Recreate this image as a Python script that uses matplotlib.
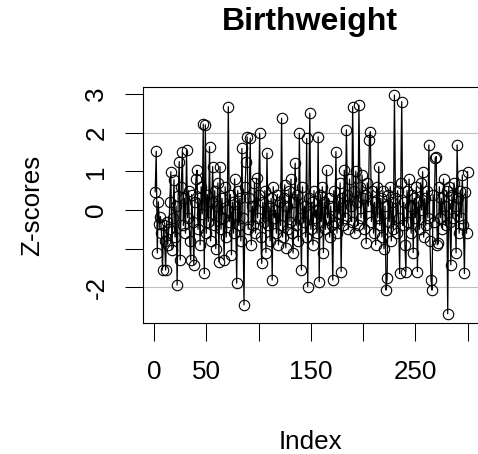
import matplotlib
matplotlib.use("Agg")
import matplotlib.pyplot as plt
import numpy as np

# Z-scores (index 1..300)
z_scores = [
    0.47, 1.52, -1.11, 0.21, -0.35, -0.17, -0.60, -1.55, -0.40, -0.80,
    -1.55, -0.30, -0.90, -0.50, 0.20, 0.99, -1.03, -0.20, 0.78, -0.70,
    0.10, -1.94, 0.35, 1.25, -1.29, 0.60, 1.50, -0.40, 0.30, -0.60,
    1.55, -0.20, 0.50, -0.80, -1.29, 0.40, -0.30, -1.42, 0.20, 0.80,
    1.03, -0.50, 0.30, -0.90, 0.60, -0.10, 2.22, -1.64, 2.20, -0.60,
    0.40, -0.30, 1.64, -0.80, 0.20, 1.12, -0.40, 0.50, -1.00, 0.10,
    0.70, -1.34, 1.12, -0.50, 0.30, -0.20, -1.29, 0.60, -0.70, 0.00,
    2.67, -0.30, 0.40, -1.16, 0.20, -0.60, 0.80, -0.10, -1.89, 0.50,
    -0.40, 0.30, -0.80, 1.59, -0.20, -2.45, 0.60, 1.25, 1.89, -0.50,
    0.30, 1.86, -0.90, 0.10, -0.40, 0.70, -0.60, 0.82, -0.20, 0.40,
    1.98, -0.70, -1.38, 0.20, -0.30, 0.50, -1.10, 1.47, -0.40, 0.10,
    -0.80, 0.30, -1.81, 0.60, -0.20, 0.00, -0.60, 0.40, -0.90, 0.20,
    -0.40, 2.37, -0.70, 0.30, 0.65, -0.98, 0.10, -0.50, 0.50, -0.30,
    0.80, -0.60, -1.11, 0.20, 1.21, -0.40, 0.40, -0.80, 1.98, -0.20,
    -1.55, 0.60, -0.30, 0.10, -0.70, 1.85, -1.98, 0.30, 2.50, -0.50,
    0.20, -0.90, 0.50, -0.20, 0.00, -0.60, 1.89, -1.85, 0.40, -0.30,
    0.60, -1.10, 0.20, -0.50, 1.03, -0.20, 0.30, -0.70, 0.10, -0.40,
    -1.81, 0.50, -0.30, 1.51, -0.60, 0.20, -0.10, 0.70, -1.59, 0.30,
    -0.40, 1.03, -0.20, 2.07, 0.40, -0.50, 0.80, 0.10, -0.30, 2.67,
    0.50, -0.60, 1.00, 0.20, -0.40, 2.71, 0.60, -0.20, 0.90, 0.30,
    -0.50, 0.40, -0.86, 0.70, 0.10, 1.81, 2.02, -0.30, 0.50, -0.60,
    0.20, -0.90, 0.60, -0.20, 1.12, -0.40, 0.30, -0.70, 0.50, -1.00,
    0.10, -2.07, -1.77, 0.40, -0.30, 0.60, -0.80, 0.20, -0.50, 2.97,
    0.30, -0.60, 0.50, -0.20, -1.64, 0.70, 2.80, -0.40, 0.20, -0.90,
    -1.59, 0.50, -0.30, 0.80, 0.10, -0.60, 0.40, -1.10, 0.30, -0.20,
    0.60, -1.59, 0.20, -0.50, 0.70, 0.00, 0.99, -0.70, 0.30, -0.40,
    0.50, -0.20, 1.68, -0.80, -1.81, -2.07, 0.40, -0.30, 1.34, 1.38,
    -0.90, -0.86, 0.60, -0.20, 0.30, -0.50, 0.80, 0.10, -0.40, 0.50,
    -2.68, 0.60, -0.30, -1.42, 0.40, -0.20, 0.70, 0.10, -1.11, 1.68,
    0.30, -0.60, 0.50, -0.20, 0.90, -0.40, -1.64, 0.47, -0.60, 0.99,
]
ref_lines = [2, -2]
x_ticks = [0, 50, 100, 150, 200, 250, 300]
x_labels = ["0", "50", "", "150", "", "250", ""]
y_ticks = [-2, -1, 0, 1, 2, 3]
y_labels = ["-2", "", "0", "1", "2", "3"]

plt.rcParams["font.family"] = ["Liberation Sans", "DejaVu Sans"]

W, H = 478, 454
fig = plt.figure(figsize=(W / 100, H / 100), dpi=100)

# axes box in pixels: left 142.7, top 87.3, bottom 323, right runs off the image
x_lo, x_hi = -10.96, 315.0
px_per_x = 1.0447
ax_w = (x_hi - x_lo) * px_per_x
ax = fig.add_axes([142.7 / W, (H - 323) / H, ax_w / W, (323 - 87.3) / H])

idx = np.arange(1, len(z_scores) + 1)
for y in ref_lines:
    ax.axhline(y, color="#bebebe", lw=0.8, zorder=1)
ax.plot(idx, z_scores, color="black", lw=0.9, marker="o", ms=7.5,
        mfc="none", mec="black", mew=0.8, zorder=2)

ax.set_xlim(x_lo, x_hi)
ax.set_ylim(-2.92, 3.17)
ax.set_xticks(x_ticks)
ax.set_xticklabels(x_labels)
ax.set_yticks(y_ticks)
ax.set_yticklabels(y_labels, rotation=90, va="center")
ax.tick_params(axis="both", length=12.7, width=0.75, labelsize=18.7,
               color="black")
ax.tick_params(axis="x", pad=14)
ax.tick_params(axis="y", pad=12)
for s in ax.spines.values():
    s.set_linewidth(0.8)

fig.text(310 / W, 1 - 22 / H, "Birthweight", ha="center", va="center",
         fontsize=23, fontweight="bold")
fig.text(310 / W, 1 - 449 / H, "Index", ha="center", va="baseline",
         fontsize=18.7)
fig.text(32 / W, 1 - 205 / H, "Z-scores", ha="center", va="center",
         rotation=90, fontsize=18.7)

fig.savefig("out.png", dpi=100)
